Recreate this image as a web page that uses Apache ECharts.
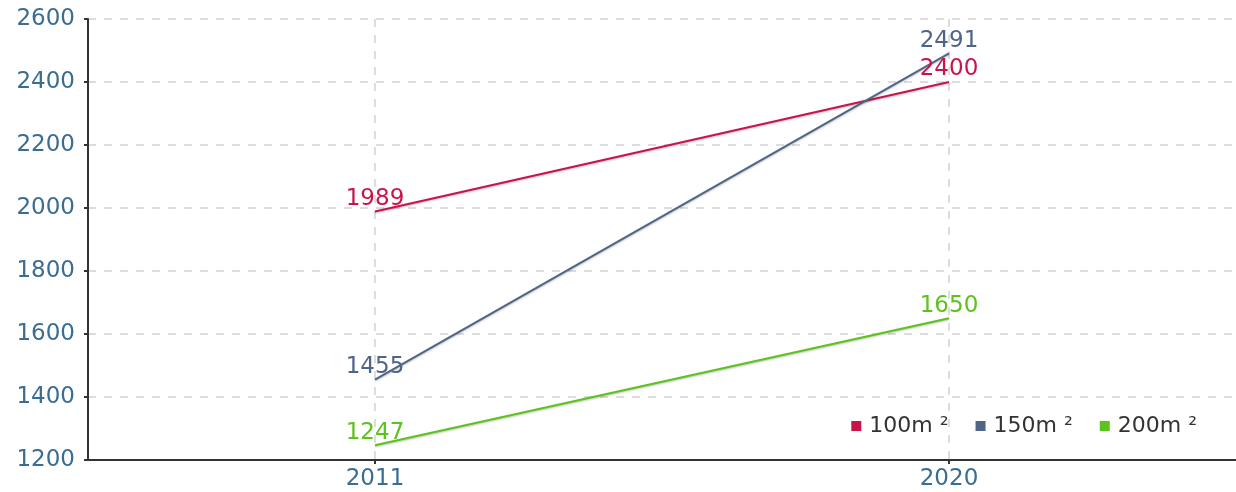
<!DOCTYPE html>
<html><head><meta charset="utf-8">
<script src="https://cdn.jsdelivr.net/npm/echarts@6/dist/echarts.min.js"></script>
<style>html,body{margin:0;padding:0;background:#fff}#c{width:1236px;height:492px}</style>
</head><body><div id="c"></div>
<script>
const categories = ['2011', '2020'];
const seriesNames = ['100m ²', '150m ²', '200m ²'];
const values100 = [1989, 2400];
const values150 = [1455, 2491];
const values200 = [1247, 1650];
const yTicks = { min: 1200, max: 2600, interval: 200 };
const colors = ['#c8144b', '#4f6587', '#5cc21c'];

const font = 'DejaVu Sans';
const chart = echarts.init(document.getElementById('c'));
const mk = (name, data, color) => ({
  name, type: 'line', data,
  symbol: 'circle', symbolSize: 0,
  itemStyle: { color },
  lineStyle: { color, width: 2, shadowColor: 'rgba(0,0,0,0.25)', shadowBlur: 2, shadowOffsetY: 1 },
  label: { show: true, position: 'top', distance: 1, color, fontFamily: font, fontSize: 23 },
  emphasis: { disabled: true },
  animation: false
});
chart.setOption({
  animation: false,
  grid: { left: 88, top: 19, right: 0, bottom: 32 },
  legend: {
    right: 34, top: 410, itemWidth: 10, itemHeight: 10, itemGap: 27, icon: 'rect',
    textStyle: { fontFamily: font, fontSize: 22, color: '#333', padding: [0, 0, 0, 3] },
    data: seriesNames
  },
  xAxis: {
    type: 'category', data: categories, boundaryGap: true,
    axisLine: { lineStyle: { color: '#333', width: 2 } },
    axisTick: { show: true, alignWithLabel: true, length: 4, lineStyle: { color: '#333', width: 2 } },
    axisLabel: { color: '#3a6d94', fontFamily: font, fontSize: 23, margin: 8 },
    splitLine: { show: true, alignWithLabel: true, lineStyle: { color: '#ddd', type: [8, 8], width: 2 } }
  },
  yAxis: {
    type: 'value', min: yTicks.min, max: yTicks.max, interval: yTicks.interval,
    axisLine: { show: true, lineStyle: { color: '#333', width: 2 } },
    axisTick: { show: true, length: 4, lineStyle: { color: '#333', width: 2 } },
    axisLabel: { color: '#3a6d94', fontFamily: font, fontSize: 23, margin: 13, formatter: v => String(v) },
    splitLine: { show: true, lineStyle: { color: '#ddd', type: [8, 8], width: 2 } }
  },
  series: [
    mk(seriesNames[0], values100, colors[0]),
    mk(seriesNames[1], values150, colors[1]),
    mk(seriesNames[2], values200, colors[2])
  ]
});
</script></body></html>
